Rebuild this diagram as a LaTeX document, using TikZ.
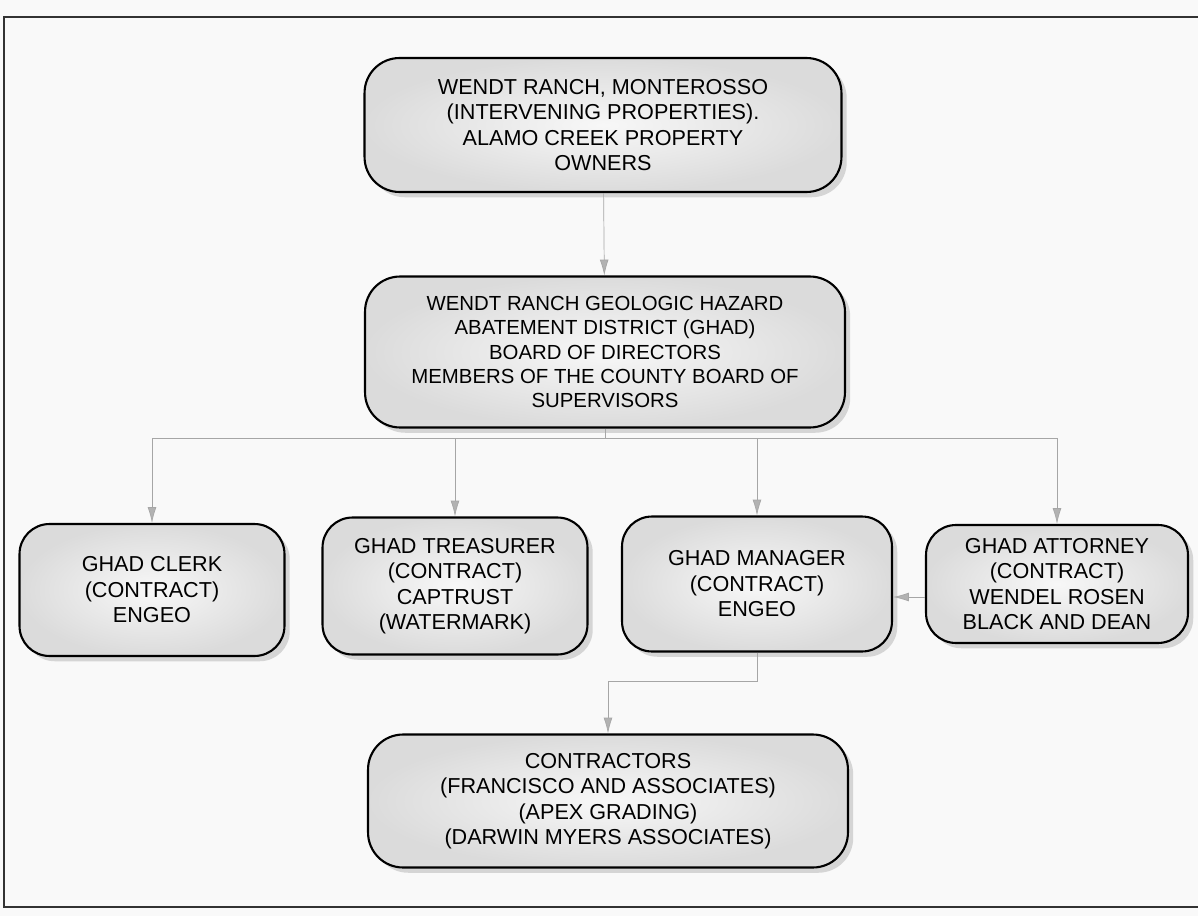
\documentclass[tikz,border=0pt]{standalone}
\usepackage{fontspec}
\setmainfont{Liberation Sans}
\usetikzlibrary{shadows,arrows.meta}
\tikzset{org/.style={draw=black,line width=1.2pt,rounded corners=0.6cm,shade,inner color=gray!6,outer color=gray!28,drop shadow={shadow xshift=3pt,shadow yshift=-3pt,fill=gray!60},align=center,font=\fontsize{12.3}{14.5}\selectfont,inner sep=2pt},
link/.style={draw=gray!70,thin},
arr/.style={link,-{Latex[length=9pt,width=5pt,fill=gray!60]}}}
\begin{document}
\begin{tikzpicture}[x=0.02cm,y=-0.02cm]
\useasboundingbox(0,0)rectangle(1198,916);
\fill[gray!5](0,0)rectangle(1198,916);
\draw[line width=1.6pt,black!80](4,17)rectangle(1204,907);
\node[org,minimum width=9.54cm,minimum height=2.68cm,rounded corners=0.7cm](owners)at(603,125){WENDT RANCH, MONTEROSSO\\(INTERVENING PROPERTIES).\\ALAMO CREEK PROPERTY\\OWNERS};
\node[org,minimum width=9.6cm,minimum height=3.02cm,rounded corners=0.7cm,font=\fontsize{11.6}{13.8}\selectfont](board)at(605,352){WENDT RANCH GEOLOGIC HAZARD\\ABATEMENT DISTRICT (GHAD)\\BOARD OF DIRECTORS\\MEMBERS OF THE COUNTY BOARD OF\\SUPERVISORS};
\node[org,minimum width=5.3cm,minimum height=2.64cm](clerk)at(152,590){GHAD CLERK\\(CONTRACT)\\ENGEO};
\node[org,minimum width=5.3cm,minimum height=2.74cm](treas)at(455,586){GHAD TREASURER\\(CONTRACT)\\CAPTRUST\\(WATERMARK)};
\node[org,minimum width=5.4cm,minimum height=2.7cm](mgr)at(757,584){GHAD MANAGER\\(CONTRACT)\\ENGEO};
\node[org,minimum width=5.24cm,minimum height=2.36cm](atty)at(1057,584){GHAD ATTORNEY\\(CONTRACT)\\WENDEL ROSEN\\BLACK AND DEAN};
\node[org,minimum width=9.6cm,minimum height=2.66cm,rounded corners=0.7cm](contr)at(608,801){CONTRACTORS\\(FRANCISCO AND ASSOCIATES)\\(APEX GRADING)\\(DARWIN MYERS ASSOCIATES)};
\coordinate(bus)at(605,438);
\coordinate(jog)at(757,681);
\draw[arr](owners)--(board);
\draw[link](board.south)--(bus);
\draw[link](clerk.north|-bus)--(atty.north|-bus);
\draw[arr](clerk.north|-bus)--(clerk);
\draw[arr](treas.north|-bus)--(treas);
\draw[arr](mgr.north|-bus)--(mgr);
\draw[arr](atty.north|-bus)--(atty);
\draw[arr](atty.west|-0,597)--(mgr.east|-0,597);
\draw[arr](mgr.south)--(jog)-|(contr.north);
\end{tikzpicture}
\end{document}
